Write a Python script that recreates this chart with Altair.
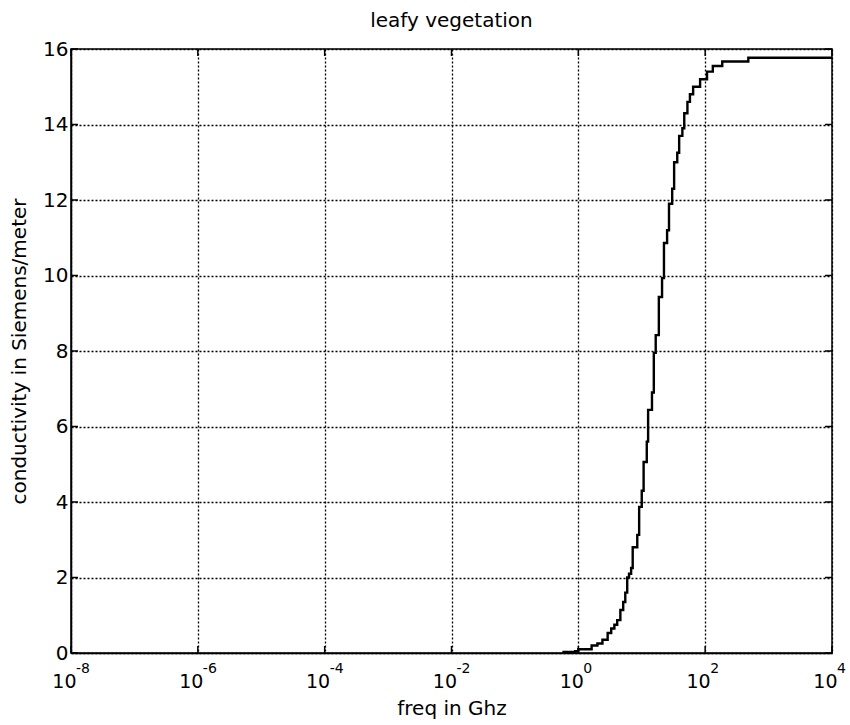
import altair as alt
import pandas as pd

# curve: frequency in GHz and conductivity in S/m
freq = [0.56, 0.89, 1.0, 1.62, 2.0, 2.4, 2.9, 3.3, 3.7, 4.1, 4.6, 5.1, 5.5, 5.9,
        6.3, 6.8, 7.2, 8.5, 9.1, 10.0, 10.7, 12.0, 12.6, 14.5, 15.5, 16.6, 18.6,
        20.9, 22.4, 25.1, 26.9, 30.2, 32.4, 36.3, 38.9, 43.7, 46.8, 52.5, 57.5,
        64.6, 83.2, 107, 132, 186, 479, 10000]
sigma = [0.03, 0.05, 0.1, 0.2, 0.25, 0.35, 0.53, 0.65, 0.75, 0.87, 1.14, 1.35,
         1.6, 2.0, 2.1, 2.25, 2.8, 3.13, 3.87, 4.3, 5.06, 5.6, 6.44, 6.9, 7.95,
         8.42, 9.43, 9.93, 10.86, 11.2, 11.9, 12.3, 13.0, 13.25, 13.7, 13.9, 14.3,
         14.6, 14.8, 15.0, 15.2, 15.4, 15.55, 15.67, 15.77, 15.77]

x_ticks = [1e-8, 1e-6, 1e-4, 1e-2, 1e0, 1e2, 1e4]
x_exps = ["-8", "-6", "-4", "-2", "0", "2", "4"]
y_ticks = [0, 2, 4, 6, 8, 10, 12, 14, 16]

W, H = 761, 604
FONT = "DejaVu Sans"
TICK = 7

df = pd.DataFrame({"freq": freq, "sigma": sigma})
ex = pd.DataFrame({"freq": x_ticks, "exp": x_exps})
yt = pd.DataFrame({"sigma": y_ticks})

xscale = alt.Scale(type="log", domain=[1e-8, 1e4], nice=False)
yscale = alt.Scale(domain=[0, 16], nice=False)

line = alt.Chart(df).mark_line(color="black", strokeWidth=2.4,
                               interpolate="step-after", clip=True).encode(
    x=alt.X("freq:Q", scale=xscale,
            axis=alt.Axis(values=x_ticks, title="freq in Ghz",
                          labelExpr="'10'", labelAlign="right", labelOffset=5,
                          labelBaseline="top", labelPadding=19, labelFontSize=19,
                          labelFlush=False, labelOverlap=False, labelBound=False,
                          ticks=False, grid=True, titlePadding=7)),
    y=alt.Y("sigma:Q", scale=yscale,
            axis=alt.Axis(values=y_ticks, title="conductivity in Siemens/meter",
                          ticks=False, labelPadding=3, grid=True,
                          labelFlush=False, labelOverlap=False, titlePadding=13)),
)

exps = alt.Chart(ex).mark_text(align="left", baseline="top", dx=5, fontSize=14,
                               font=FONT, color="black").encode(
    x=alt.X("freq:Q", scale=xscale),
    y=alt.value(H + 9),
    text="exp:N",
)

# inward tick marks on all four sides
xt_bottom = alt.Chart(ex).mark_rule(color="black", strokeWidth=1.5).encode(
    x=alt.X("freq:Q", scale=xscale), y=alt.value(H), y2=alt.value(H - TICK))
xt_top = alt.Chart(ex).mark_rule(color="black", strokeWidth=1.5).encode(
    x=alt.X("freq:Q", scale=xscale), y=alt.value(0), y2=alt.value(TICK))
yt_left = alt.Chart(yt).mark_rule(color="black", strokeWidth=1.5).encode(
    y=alt.Y("sigma:Q", scale=yscale), x=alt.value(0), x2=alt.value(TICK))
yt_right = alt.Chart(yt).mark_rule(color="black", strokeWidth=1.5).encode(
    y=alt.Y("sigma:Q", scale=yscale), x=alt.value(W), x2=alt.value(W - TICK))

chart = alt.layer(line, exps, xt_bottom, xt_top, yt_left, yt_right).properties(
    width=W, height=H,
    background="white",
    title=alt.TitleParams("leafy vegetation", fontSize=20, font=FONT,
                          fontWeight="normal", color="black", offset=8),
    autosize=alt.AutoSizeParams(type="none"),
    padding={"left": 71, "top": 49, "right": 18, "bottom": 72},
).configure_axis(
    labelFont=FONT, titleFont=FONT, labelFontSize=20, titleFontSize=20,
    labelColor="black", titleColor="black", titleFontWeight="normal",
    domainColor="black", domainWidth=1.5,
    gridColor="black", gridDash=[2, 2], gridWidth=1.3, gridOpacity=1,
).configure_view(stroke="black", strokeWidth=1.5)

chart.save("out.html", embed_options={"renderer": "svg", "actions": False})
